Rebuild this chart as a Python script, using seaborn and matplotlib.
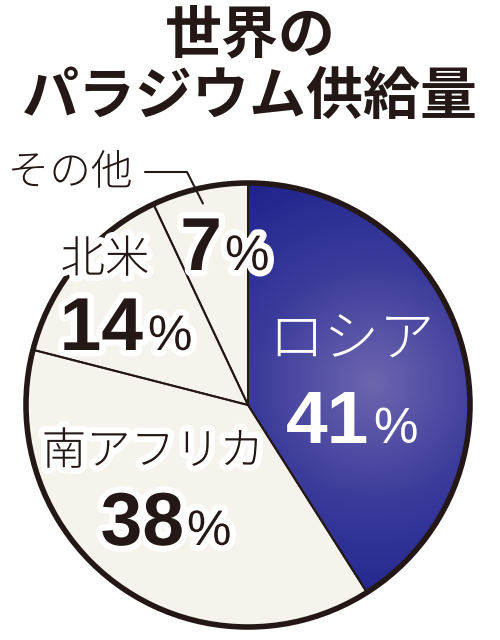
import numpy as np
import matplotlib
matplotlib.use('Agg')
import matplotlib.pyplot as plt
import matplotlib.patheffects as pe
from matplotlib.colors import LinearSegmentedColormap
import seaborn as sns

title_lines = ['世界の', 'パラジウム供給量']
regions = ['ロシア', '南アフリカ', '北米', 'その他']
shares = [41, 38, 14, 7]

sns.set_theme(style='white')
plt.rcParams['font.family'] = ['Noto Sans CJK JP', 'DejaVu Sans']

W, H = 500, 640
INK = '#231815'
CREAM = '#f5f3ec'
NUM_FONT = ['Liberation Sans Narrow', 'Liberation Sans', 'DejaVu Sans']

fig = plt.figure(figsize=(5, 6.4), dpi=100)
fig.patch.set_facecolor('white')
ax = fig.add_axes([0, 0, 1, 1])

cx, cy, r = 248, H - 405, 222
wedges, _ = ax.pie(shares, colors=[CREAM] * len(shares), startangle=90, counterclock=False,
                   center=(cx, cy), radius=r, wedgeprops=dict(linewidth=0))

# radial shading on the Russia slice
xs = np.linspace(cx - r, cx + r, 400)
ys = np.linspace(cy - r, cy + r, 400)
X, Y = np.meshgrid(xs, ys)
dist = np.hypot(X - 373, Y - (H - 383)) / 235
shade = LinearSegmentedColormap.from_list('ru', ['#6d66ae', '#3b3b9b', '#1e238b'])
img = ax.imshow(dist, cmap=shade, vmin=0, vmax=1, origin='lower', aspect='auto',
                extent=(cx - r, cx + r, cy - r, cy + r), zorder=1.5)
img.set_clip_path(wedges[0])

# slice borders and outer rim
ax.pie(shares, startangle=90, counterclock=False, center=(cx, cy), radius=r,
       wedgeprops=dict(fill=False, edgecolor=INK, linewidth=1.4, zorder=2))
ax.add_patch(plt.Circle((cx, cy), r, fill=False, edgecolor=INK, linewidth=4, zorder=3))

halo = [pe.withStroke(linewidth=9, foreground='white')]

# label layout: name centre, number right edge / baseline (image pixels from top)
name_pos = [(352, 340), (153, 452), (105, 260), (70, 173)]
name_size = [40, 32, 32, 30]
num_pos = [(369, 443), (184, 545), (143, 350), (222, 270)]
pct_gap = [4, 3, 5, 3]

for i, name in enumerate(regions):
    col = 'white' if i == 0 else INK
    fx = None if i == 0 else halo
    nx, ny = name_pos[i]
    ax.text(nx, H - ny, name, ha='center', va='center', fontsize=name_size[i],
            fontweight='light', color=col, path_effects=fx, zorder=4)
    px, py = num_pos[i]
    ax.text(px, H - py, f'{shares[i]}', ha='right', va='baseline', fontsize=54,
            fontweight='bold', family=NUM_FONT, color=col, path_effects=fx, zorder=4)
    ax.text(px + pct_gap[i], H - py, '%', ha='left', va='baseline', fontsize=36,
            family=['Liberation Sans', 'DejaVu Sans'], color=col, path_effects=fx, zorder=4)

# leader line for the small slice
w = wedges[3]
mid = np.deg2rad((w.theta1 + w.theta2) / 2)
ex, ey = cx + 0.93 * r * np.cos(mid), cy + 0.93 * r * np.sin(mid)
ax.plot([145, 187, ex], [H - 172, H - 172, ey], color=INK, linewidth=1.5, zorder=3.5)

ax.text(250, H - 35, title_lines[0], ha='center', va='center', fontsize=41,
        fontweight='bold', color=INK)
ax.text(250, H - 97, title_lines[1], ha='center', va='center', fontsize=41,
        fontweight='bold', color=INK)

ax.set_xlim(0, W)
ax.set_ylim(0, H)
ax.set_aspect('auto')
ax.axis('off')
fig.savefig('out.png', dpi=100, facecolor='white')
